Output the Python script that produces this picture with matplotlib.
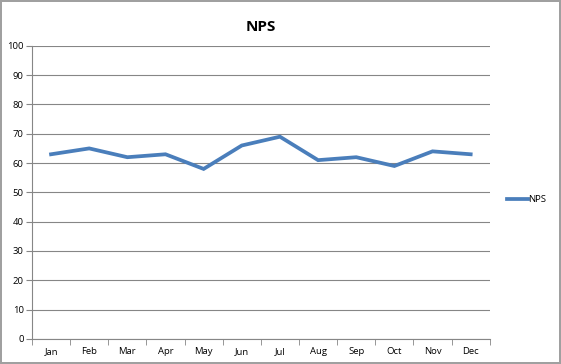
import matplotlib
matplotlib.use("Agg")
import matplotlib.pyplot as plt
import numpy as np

months = ["Jan", "Feb", "Mar", "Apr", "May", "Jun", "Jul", "Aug", "Sep", "Oct", "Nov", "Dec"]
nps = [63, 65, 62, 63, 58, 66, 69, 61, 62, 59, 64, 63]
yticks = list(range(0, 101, 10))

plt.rcParams['font.family'] = ['Open Sans', 'DejaVu Sans']

fig = plt.figure(figsize=(5.61, 3.64), dpi=100)
fig.patch.set_edgecolor('#a0a0a0')
fig.patch.set_linewidth(1.5)
ax = fig.add_axes([0.057, 0.069, 0.816, 0.805])

x = np.arange(len(months))
ax.plot(x, nps, color='#4a7ebb', linewidth=2.7, solid_joinstyle='miter', label='NPS')

ax.set_xlim(-0.5, len(months) - 0.5)
ax.set_ylim(0, 100)
ax.set_yticks(yticks)
ax.set_yticklabels([str(v) for v in yticks], fontsize=6.8)
ax.set_xticks(x)
ax.set_xticklabels(months, fontsize=6.8)
ax.tick_params(axis='x', which='major', length=0, pad=6)
ax.set_xticks(np.arange(-0.5, len(months), 1), minor=True)
ax.tick_params(axis='x', which='minor', length=4, color='#868686', direction='out')
ax.tick_params(axis='y', length=4, color='#868686', direction='out', pad=2)

ax.grid(axis='y', color='#868686', linewidth=0.8)
ax.set_axisbelow(True)
for s in ['top', 'right']:
    ax.spines[s].set_visible(False)
for s in ['left', 'bottom']:
    ax.spines[s].set_color('#868686')
    ax.spines[s].set_linewidth(0.8)

ax.set_title('NPS', fontsize=11, fontweight='bold', pad=11)

leg = ax.legend(loc='center left', bbox_to_anchor=(1.02, 0.475), frameon=False,
                fontsize=6.8, handlelength=2.2, handletextpad=0.0)

fig.savefig('out.png', dpi=100)
